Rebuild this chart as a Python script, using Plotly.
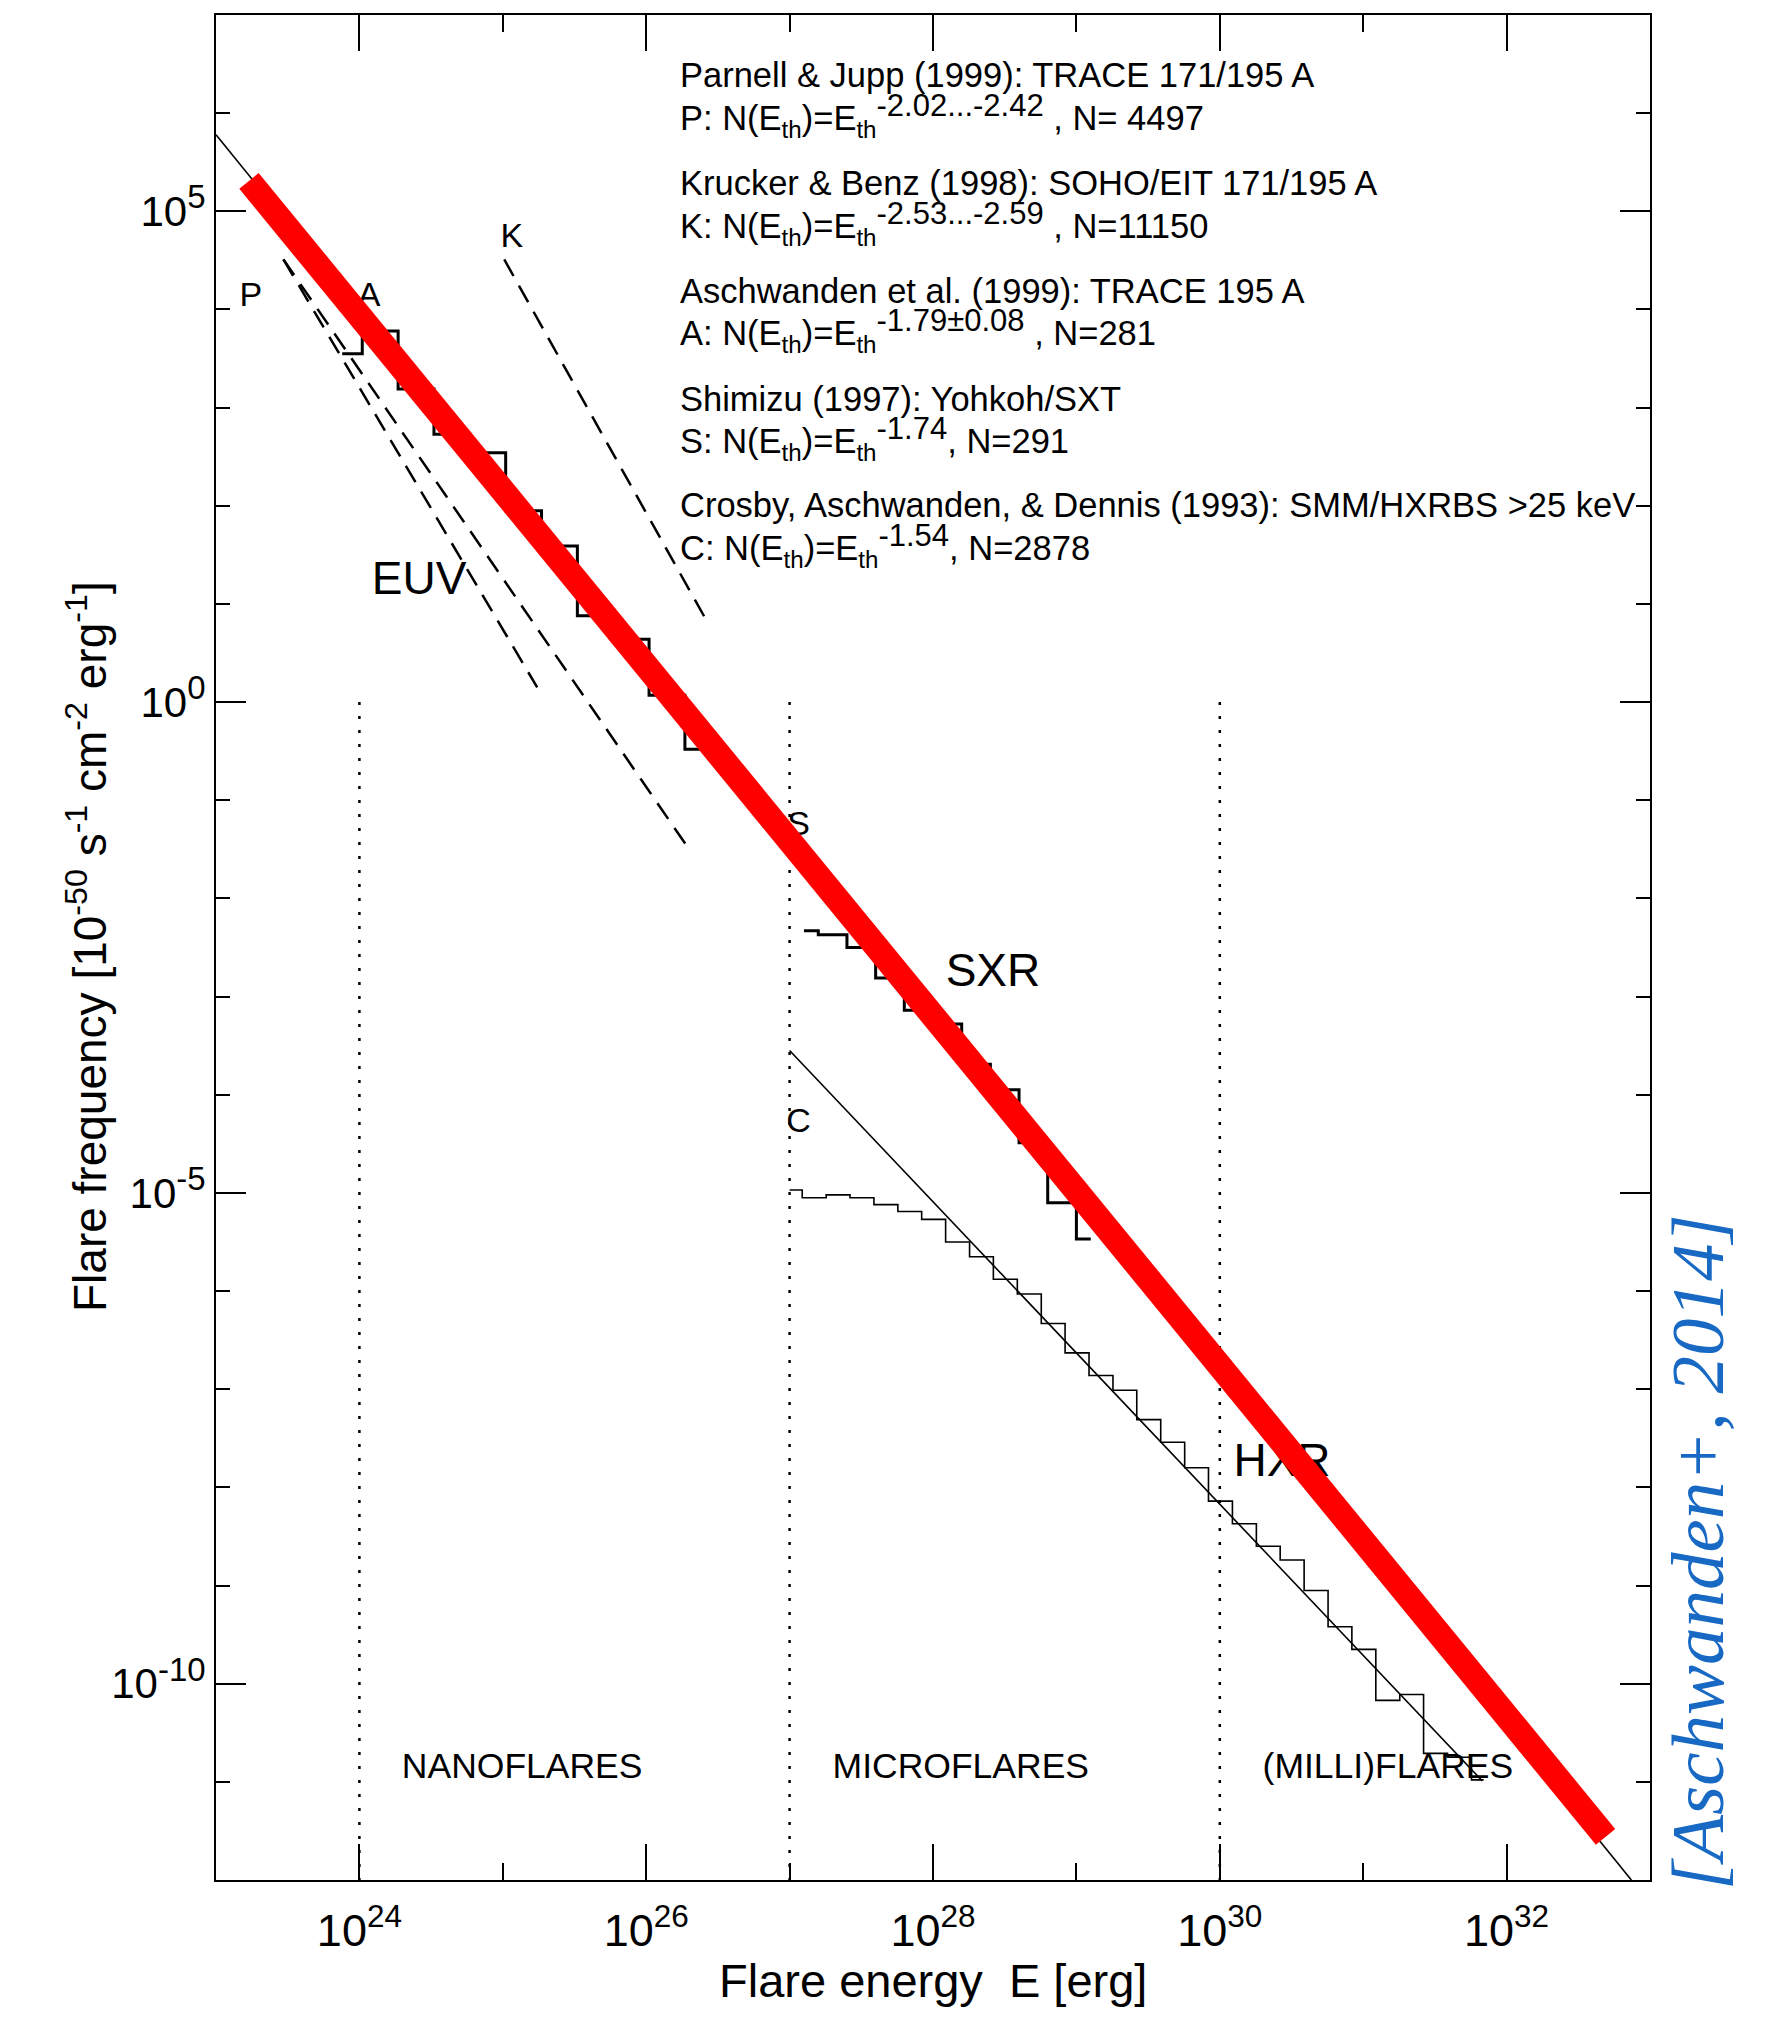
import plotly.graph_objects as go

# ---------------- data (log10 values) ----------------
# Aschwanden et al. (1999) TRACE histogram (EUV, label A)
euv_edges_logE = [23.88, 24.02, 24.27, 24.52, 24.77, 25.02, 25.27, 25.52, 25.77, 26.02, 26.27, 26.45]
euv_levels_logN = [3.55, 3.78, 3.19, 2.73, 2.54, 1.95, 1.59, 0.88, 0.64, 0.07, -0.48]

# Shimizu (1997) Yohkoh/SXT histogram (SXR, label S)
sxr_edges_logE = [27.1, 27.2, 27.4, 27.6, 27.8, 28.0, 28.2, 28.4, 28.6, 28.8, 29.0, 29.1]
sxr_levels_logN = [-2.33, -2.37, -2.50, -2.81, -3.14, -3.28, -3.69, -3.95, -4.49, -5.10, -5.47]

# Crosby et al. (1993) SMM/HXRBS histogram (HXR, label C)
hxr_edges_logE = [27.0, 27.088, 27.255, 27.421, 27.588, 27.755, 27.921, 28.088, 28.255, 28.421,
                  28.588, 28.755, 28.921, 29.088, 29.255, 29.421, 29.588, 29.755, 29.921, 30.088,
                  30.255, 30.421, 30.588, 30.755, 30.921, 31.088, 31.255, 31.421, 31.588, 31.755, 31.84]
hxr_levels_logN = [-4.97, -5.05, -5.02, -5.05, -5.12, -5.19, -5.27, -5.50, -5.65, -5.88,
                   -6.03, -6.33, -6.63, -6.86, -7.01, -7.31, -7.54, -7.80, -8.14, -8.37,
                   -8.60, -8.74, -9.05, -9.42, -9.65, -10.17, -10.11, -10.71, -10.75, -10.98]

# dashed power-law fits (end points)
p1_logE, p1_logN = [23.47, 25.24], [4.51, 0.15]      # Parnell & Jupp, steep
p2_logE, p2_logN = [23.47, 26.29], [4.51, -1.48]     # Parnell & Jupp, shallow
k_logE, k_logN = [25.01, 26.44], [4.51, 0.78]        # Krucker & Benz

# thin solid fits
afit_logE, afit_logN = [23.0, 32.87], [5.78, -12.0]  # overall -1.8 line
cfit_logE, cfit_logN = [27.0, 31.83], [-3.55, -10.99]  # Crosby fit

# thick red line
red_logE, red_logN = [23.23, 32.69], [5.31, -11.56]

# dotted regime boundaries
bound_logE = [24, 27, 30]
bound_logN = [0, -12]

# axis ticks
x_tick_exp = [24, 26, 28, 30, 32]
y_tick_exp = [5, 0, -5, -10]

# text labels in the plot (log10 E, log10 N, text, size)
labels = [
    (23.243, 4.12, "P", 34),
    (24.068, 4.12, "A", 34),
    (25.063, 4.72, "K", 34),
    (27.063, -1.27, "S", 34),
    (27.063, -4.29, "C", 34),
    (24.416, 1.22, "EUV", 46),
    (28.418, -2.77, "SXR", 46),
    (30.434, -7.77, "HXR", 46),
    (25.135, -10.87, "NANOFLARES", 35.5),
    (28.194, -10.87, "MICROFLARES", 35.5),
    (31.172, -10.87, "(MILLI)FLARES", 35.5),
]

SUP = "<sup><span style='font-size:31px'>%s</span></sup>"
legend_lines = [
    "Parnell & Jupp (1999): TRACE 171/195 A",
    "P: N(E<sub>th</sub>)=E<sub>th</sub>" + SUP % "-2.02...-2.42" + " , N= 4497",
    "Krucker & Benz (1998): SOHO/EIT 171/195 A",
    "K: N(E<sub>th</sub>)=E<sub>th</sub>" + SUP % "-2.53...-2.59" + " , N=11150",
    "Aschwanden et al. (1999): TRACE 195 A",
    "A: N(E<sub>th</sub>)=E<sub>th</sub>" + SUP % "-1.79±0.08" + " , N=281",
    "Shimizu (1997): Yohkoh/SXT",
    "S: N(E<sub>th</sub>)=E<sub>th</sub>" + SUP % "-1.74" + ", N=291",
    "Crosby, Aschwanden, & Dennis (1993): SMM/HXRBS >25 keV",
    "C: N(E<sub>th</sub>)=E<sub>th</sub>" + SUP % "-1.54" + ", N=2878",
]
legend_y_px = [74.6, 115, 183, 223, 291, 331, 399, 439, 505, 546]

# ---------------- figure ----------------
W, H = 1766, 2017
L, R, T, B = 216, 1650, 15, 1880
SANS = "Liberation Sans, Arial, Helvetica, sans-serif"


def px(X):
    return (X - L) / (R - L)


def py(Y):
    return (B - Y) / (B - T)


def pw(v):
    return [10.0 ** float(a) for a in v]


def step(edges, levels):
    return pw(edges), pw(levels + [levels[-1]])


fig = go.Figure()

for e in bound_logE:
    fig.add_trace(go.Scatter(x=pw([e, e]), y=pw(bound_logN), mode="lines",
                             line=dict(color="black", width=2.5, dash="3px,11px")))

for xs, ys in [(p1_logE, p1_logN), (p2_logE, p2_logN), (k_logE, k_logN)]:
    fig.add_trace(go.Scatter(x=pw(xs), y=pw(ys), mode="lines",
                             line=dict(color="black", width=2.5, dash="19px,11px")))

for xs, ys in [(afit_logE, afit_logN), (cfit_logE, cfit_logN)]:
    fig.add_trace(go.Scatter(x=pw(xs), y=pw(ys), mode="lines",
                             line=dict(color="black", width=1.6)))

hx, hy = step(hxr_edges_logE, hxr_levels_logN)
fig.add_trace(go.Scatter(x=hx, y=hy, mode="lines", line_shape="hv",
                         line=dict(color="black", width=1.6)))
for edges, levels in [(euv_edges_logE, euv_levels_logN), (sxr_edges_logE, sxr_levels_logN)]:
    sx, sy = step(edges, levels)
    fig.add_trace(go.Scatter(x=sx, y=sy, mode="lines", line_shape="hv",
                             line=dict(color="black", width=3)))

for lx, ly, txt, sz in labels:
    fig.add_trace(go.Scatter(x=[10.0 ** lx], y=[10.0 ** ly], mode="text", text=[txt],
                             textposition="middle center",
                             textfont=dict(family=SANS, size=sz, color="black")))

fig.add_trace(go.Scatter(x=pw(red_logE), y=pw(red_logN), mode="lines",
                         line=dict(color="#ff0000", width=25)))

annotations = []
for txt, yy in zip(legend_lines, legend_y_px):
    annotations.append(dict(x=px(678), y=py(yy), xref="paper", yref="paper", text=txt,
                            xanchor="left", yanchor="middle", showarrow=False,
                            font=dict(family=SANS, size=34.5, color="black")))

annotations.append(dict(x=px(933), y=py(1981), xref="paper", yref="paper",
                        text="Flare energy  E [erg]", xanchor="center", yanchor="middle",
                        showarrow=False, font=dict(family=SANS, size=47, color="black")))
annotations.append(dict(x=px(87), y=py(947), xref="paper", yref="paper",
                        text="Flare frequency [10<sup>-50</sup> s<sup>-1</sup> cm<sup>-2</sup> erg<sup>-1</sup>]",
                        textangle=-90, xanchor="center", yanchor="middle",
                        showarrow=False, font=dict(family=SANS, size=46, color="black")))
annotations.append(dict(x=px(1697), y=py(1552), xref="paper", yref="paper",
                        text="<i>[Aschwanden+, 2014]</i>", textangle=-90,
                        xanchor="center", yanchor="middle", showarrow=False,
                        font=dict(family="Liberation Serif, Times New Roman, serif", size=75,
                                  color="#1769c4")))

fig.update_layout(width=W, height=H, margin=dict(l=L, r=W - R, t=T, b=H - B, pad=0),
                  paper_bgcolor="white", plot_bgcolor="white", showlegend=False,
                  annotations=annotations)

axis_common = dict(type="log", showline=True, linecolor="black", linewidth=2,
                   mirror="ticks", ticks="inside", tickwidth=2, tickcolor="black",
                   showgrid=False, zeroline=False)

fig.update_xaxes(range=[23, 33], tickvals=pw(x_tick_exp),
                 ticktext=["10<sup>%d</sup>" % e for e in x_tick_exp], ticklen=36,
                 tickfont=dict(family=SANS, size=45, color="black"), ticklabelstandoff=10,
                 minor=dict(ticks="inside", ticklen=17, tickwidth=2, tickcolor="black",
                            dtick=1, tick0=0, showgrid=False),
                 **axis_common)
fig.update_yaxes(range=[-12, 7], tickvals=pw(y_tick_exp),
                 ticktext=["10<sup><span style='font-size:33px'>%d</span></sup>" % e for e in y_tick_exp],
                 ticklen=30,
                 tickfont=dict(family=SANS, size=42, color="black"), ticklabelstandoff=0,
                 minor=dict(ticks="inside", ticklen=14, tickwidth=2, tickcolor="black",
                            dtick=1, tick0=0, showgrid=False),
                 **axis_common)

fig.write_html("out.html")
